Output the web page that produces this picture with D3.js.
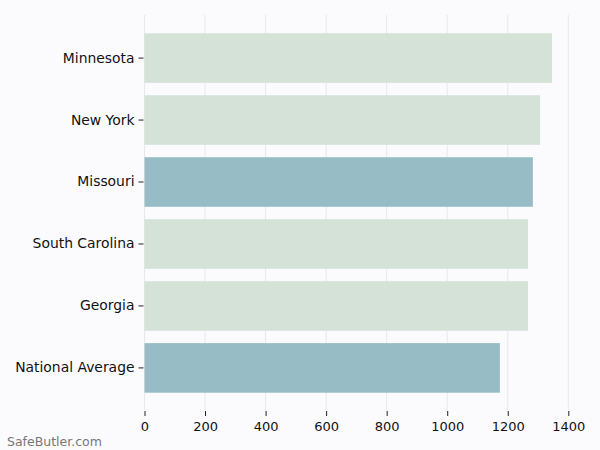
<!DOCTYPE html>
<meta charset="utf-8">
<title>Bar chart</title>
<style>
body { margin: 0; background: #fbfbfe; }
svg { display: block; }
.tick text { font-family: "DejaVu Sans", sans-serif; fill: #111; }
.y-axis .tick text { font-size: 13.9px; }
.x-axis .tick text { font-size: 13px; }
.tick line { stroke: #222; }
.domain { display: none; }
</style>
<svg width="600" height="450"></svg>
<script src="https://d3js.org/d3.v7.min.js"></script>
<script>
const states = ["Minnesota", "New York", "Missouri", "South Carolina", "Georgia", "National Average"];
const values = [1346, 1307, 1283, 1267, 1267, 1174];
const highlight = [false, false, true, false, false, true];
const xTicks = [0, 200, 400, 600, 800, 1000, 1200, 1400];

const svg = d3.select("svg");
svg.append("rect").attr("width", 600).attr("height", 450).attr("fill", "#fbfbfe");

const x = d3.scaleLinear().domain([0, 1400]).range([144.5, 568.3]);
const y = d3.scaleBand().domain(states).range([27.1, 398.9]).paddingInner(0.2).paddingOuter(0.1);

// grid
svg.append("g").selectAll("line")
  .data(xTicks)
  .enter().append("line")
  .attr("x1", d => x(d)).attr("x2", d => x(d))
  .attr("y1", 15).attr("y2", 410)
  .attr("stroke", "#e8e8ea").attr("stroke-width", 1);

svg.append("g").selectAll("rect")
  .data(states)
  .enter().append("rect")
  .attr("x", x(0))
  .attr("y", d => y(d))
  .attr("width", (d, i) => x(values[i]) - x(0))
  .attr("height", y.bandwidth())
  .attr("fill", (d, i) => highlight[i] ? "#97bcc5" : "#d4e2d8");

svg.append("g")
  .attr("class", "x-axis")
  .attr("transform", "translate(0,411)")
  .call(d3.axisBottom(x).tickValues(xTicks).tickSize(5).tickPadding(6).tickFormat(d3.format("d")));

svg.append("g")
  .attr("class", "y-axis")
  .attr("transform", `translate(${x(0) - 1},0)`)
  .call(d3.axisLeft(y).tickSize(5).tickPadding(4));

svg.append("text")
  .attr("x", 7).attr("y", 446)
  .attr("font-family", "DejaVu Sans, sans-serif")
  .attr("font-size", 12.5).attr("fill", "#777")
  .text("SafeButler.com");
</script>
